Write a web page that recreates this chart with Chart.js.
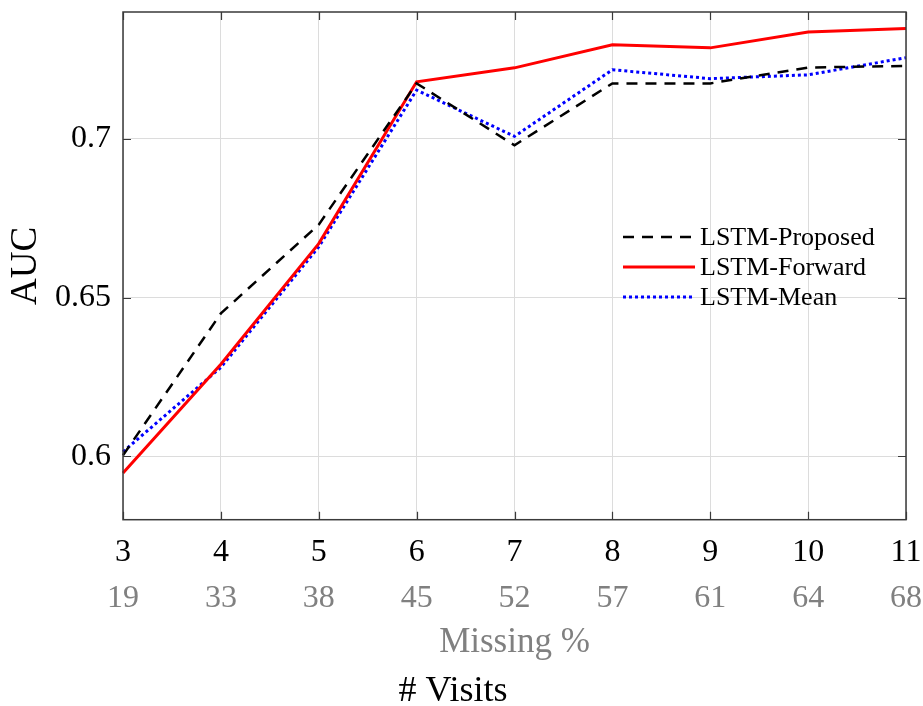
<!DOCTYPE html>
<html>
<head>
<meta charset="utf-8">
<script src="https://cdn.jsdelivr.net/npm/chart.js@4.4.0/dist/chart.umd.min.js"></script>
<style>
  html, body { margin: 0; padding: 0; background: #fff; }
  canvas { display: block; }
</style>
</head>
<body>
<canvas id="aucChart" width="923" height="706"></canvas>
<script>
  // ------- Data -------
  const visits = ['3', '4', '5', '6', '7', '8', '9', '10', '11'];
  const missingPct = ['19', '33', '38', '45', '52', '57', '61', '64', '68'];
  const lstmProposed = [0.6003, 0.645, 0.673, 0.7175, 0.698, 0.7175, 0.7175, 0.7225, 0.7230];
  const lstmForward = [0.5947, 0.629, 0.667, 0.718, 0.7224, 0.7297, 0.7287, 0.7337, 0.7348];
  const lstmMean = [0.6014, 0.628, 0.666, 0.7154, 0.7008, 0.7218, 0.719, 0.7202, 0.7256];
  const yTicks = [0.6, 0.65, 0.7];

  const serif = '"Liberation Serif", "Times New Roman", serif';
  const gridColor = '#dcdcdc';
  const axisColor = '#3a3a3a';
  const greyText = '#808080';

  // ------- Plugins -------
  // box around the plot + inward ticks on all four sides
  const framePlugin = {
    id: 'frame',
    afterDatasetsDraw(chart) {
      const { ctx, chartArea: a, scales } = chart;
      const len = 8;
      ctx.save();
      ctx.strokeStyle = axisColor;
      ctx.lineWidth = 1.2;
      scales.x.ticks.forEach((t, i) => {
        const px = Math.round(scales.x.getPixelForTick(i)) + 0.5;
        ctx.beginPath();
        ctx.moveTo(px, a.bottom); ctx.lineTo(px, a.bottom - len);
        ctx.moveTo(px, a.top); ctx.lineTo(px, a.top + len);
        ctx.stroke();
      });
      scales.y.ticks.forEach(t => {
        const py = Math.round(scales.y.getPixelForValue(t.value)) + 0.5;
        ctx.beginPath();
        ctx.moveTo(a.left, py); ctx.lineTo(a.left + len, py);
        ctx.moveTo(a.right, py); ctx.lineTo(a.right - len, py);
        ctx.stroke();
      });
      ctx.lineWidth = 1.5;
      ctx.strokeRect(a.left, a.top, a.right - a.left, a.bottom - a.top);
      ctx.restore();
    }
  };

  // MATLAB-like legend without box, inside the axes
  const insideLegend = {
    id: 'insideLegend',
    afterDatasetsDraw(chart, args, opts) {
      const { ctx } = chart;
      ctx.save();
      ctx.font = opts.font;
      ctx.textBaseline = 'middle';
      ctx.fillStyle = '#000';
      chart.data.datasets.forEach((ds, i) => {
        const y = opts.y + i * opts.rowGap;
        ctx.beginPath();
        ctx.strokeStyle = ds.borderColor;
        ctx.lineWidth = ds.borderWidth;
        ctx.setLineDash(ds.borderDash || []);
        ctx.moveTo(opts.x, y);
        ctx.lineTo(opts.x + opts.lineLen, y);
        ctx.stroke();
        ctx.setLineDash([]);
        ctx.fillText(ds.label, opts.x + opts.lineLen + 5, y + 1);
      });
      ctx.restore();
    }
  };

  // drop the automatic label overhang padding, the layout padding handles it
  function noPad(s) {
    s.paddingLeft = 0; s.paddingRight = 0; s.paddingTop = 0; s.paddingBottom = 0;
  }

  const ctx = document.getElementById('aucChart').getContext('2d');
  new Chart(ctx, {
    type: 'line',
    data: {
      labels: visits,
      datasets: [
        {
          label: 'LSTM-Proposed',
          data: lstmProposed,
          borderColor: '#000000',
          borderWidth: 2.5,
          borderDash: [11, 8],
          pointRadius: 0,
          tension: 0,
          fill: false,
        },
        {
          label: 'LSTM-Forward',
          data: lstmForward,
          borderColor: '#ff0000',
          borderWidth: 3,
          pointRadius: 0,
          tension: 0,
          fill: false,
        },
        {
          label: 'LSTM-Mean',
          data: lstmMean,
          borderColor: '#0000ff',
          borderWidth: 3,
          borderDash: [3, 3],
          pointRadius: 0,
          tension: 0,
          fill: false,
        },
      ]
    },
    options: {
      responsive: false,
      animation: false,
      layout: { padding: { left: 0, right: 17, top: 12, bottom: 0 } },
      scales: {
        x: {
          type: 'category',
          position: 'bottom',
          weight: 0,
          offset: false,
          grid: { color: gridColor, drawTicks: false },
          border: { display: false },
          ticks: {
            color: '#000',
            padding: 17,
            maxRotation: 0,
            autoSkip: false,
            font: { family: serif, size: 32, lineHeight: 1 },
          },
          afterFit: (s) => { noPad(s); s.height = 59; },
        },
        x2: {
          type: 'category',
          position: 'bottom',
          weight: 1,
          offset: false,
          labels: missingPct,
          grid: { display: false, drawTicks: false },
          border: { display: false },
          ticks: {
            color: greyText,
            padding: 3.5,
            maxRotation: 0,
            autoSkip: false,
            font: { family: serif, size: 32, lineHeight: 1 },
          },
          title: {
            display: true,
            text: 'Missing %',
            color: greyText,
            padding: 0,
            font: { family: serif, size: 35, lineHeight: 1 },
          },
          afterFit: (s) => { noPad(s); s.height = 81.5; },
        },
        y: {
          min: 0.58,
          max: 0.74,
          grid: { color: gridColor, drawTicks: false },
          border: { display: false },
          afterBuildTicks: (s) => { s.ticks = yTicks.map(v => ({ value: v })); },
          ticks: {
            color: '#000',
            padding: 12,
            font: { family: serif, size: 32 },
            callback: (v) => String(Number(v.toFixed(2))),
          },
          title: {
            display: true,
            text: 'AUC',
            color: '#000',
            padding: { top: 4, bottom: 0 },
            font: { family: serif, size: 37 },
          },
          afterFit: (s) => { noPad(s); s.width = 123; },
        },
      },
      plugins: {
        legend: { display: false },
        tooltip: { enabled: false },
        title: {
          display: true,
          position: 'bottom',
          text: '# Visits',
          color: '#000',
          padding: { top: 17, bottom: 0 },
          font: { family: serif, size: 36, weight: 'normal', lineHeight: 0.8 },
        },
        insideLegend: {
          x: 623,
          y: 237,
          rowGap: 30,
          lineLen: 72,
          font: '26px ' + serif,
        },
      },
    },
    plugins: [framePlugin, insideLegend],
  });
</script>
</body>
</html>
